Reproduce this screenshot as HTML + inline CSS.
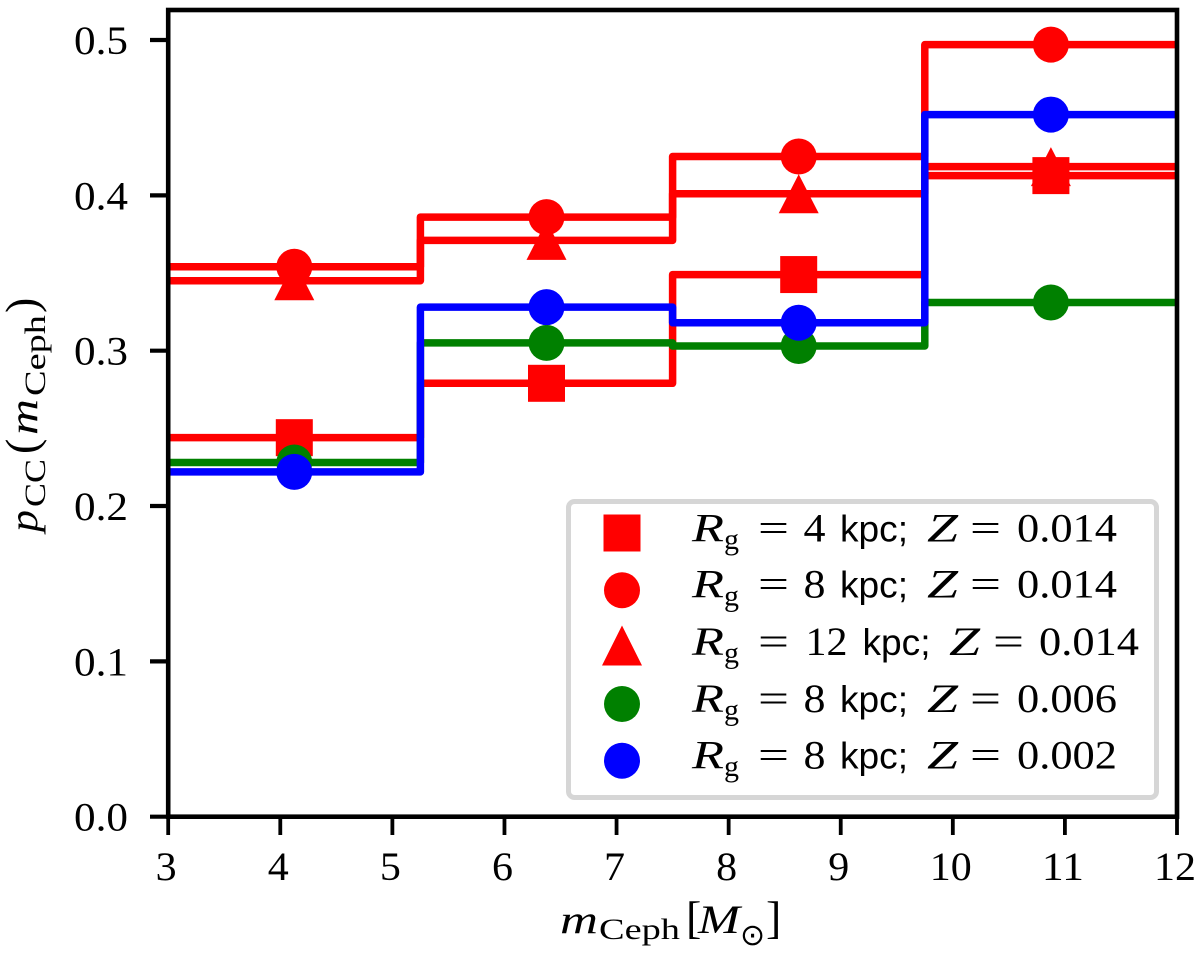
<!DOCTYPE html>
<html lang="en">
<head>
<meta charset="utf-8">
<title>Cepheid probability by mass</title>
<style>
html,body{margin:0;padding:0;background:#fff;}
svg{display:block;}
text{font-family:"Liberation Serif",serif;fill:#000;}
.it{font-style:italic;}
.sans{font-family:"Liberation Sans",sans-serif;}
</style>
</head>
<body>
<svg id="chart" xmlns="http://www.w3.org/2000/svg" width="1200" height="954" viewBox="0 0 1200 954">
  <defs><clipPath id="plot-clip"><rect x="168" y="10" width="1009" height="807"/></clipPath></defs>
  <rect x="0" y="0" width="1200" height="954" fill="#fff"/>
  <g id="series-layer" clip-path="url(#plot-clip)"></g>
  <g id="tick-layer"></g>
  <rect x="168.2" y="10" width="1008.8" height="806.7" fill="none" stroke="#000" stroke-width="4.6"/>

  <g>
    <rect x="568.5" y="501.5" width="588" height="296" rx="6" fill="#fff" fill-opacity="0.9" stroke="#d6d6d6" stroke-width="5"/>

    <g>
      <rect x="603.5" y="514.5" width="37" height="37" fill="#f00"/>
      <text class="it" x="692" y="541.5" font-size="40" textLength="32" lengthAdjust="spacingAndGlyphs">R</text><text x="724" y="549" font-size="30">g</text>
      <text x="758" y="541.5" font-size="40" textLength="31" lengthAdjust="spacingAndGlyphs">=</text>
      <text x="803.5" y="541.5" font-size="40" textLength="22" lengthAdjust="spacingAndGlyphs">4</text>
      <text class="sans" x="840" y="541.5" font-size="37" textLength="68" lengthAdjust="spacingAndGlyphs">kpc;</text>
      <text class="it" x="927" y="541.5" font-size="40" textLength="31" lengthAdjust="spacingAndGlyphs">Z</text>
      <text x="970" y="541.5" font-size="40" textLength="31" lengthAdjust="spacingAndGlyphs">=</text>
      <text x="1017" y="541.5" font-size="40" textLength="100" lengthAdjust="spacingAndGlyphs">0.014</text>
    </g>
    <g>
      <circle cx="622" cy="590.3" r="18" fill="#f00"/>
      <text class="it" x="692" y="597.5" font-size="40" textLength="32" lengthAdjust="spacingAndGlyphs">R</text><text x="724" y="605.5" font-size="30">g</text>
      <text x="758" y="597.5" font-size="40" textLength="31" lengthAdjust="spacingAndGlyphs">=</text>
      <text x="803.5" y="597.5" font-size="40" textLength="22" lengthAdjust="spacingAndGlyphs">8</text>
      <text class="sans" x="840" y="597.5" font-size="37" textLength="68" lengthAdjust="spacingAndGlyphs">kpc;</text>
      <text class="it" x="927" y="597.5" font-size="40" textLength="31" lengthAdjust="spacingAndGlyphs">Z</text>
      <text x="970" y="597.5" font-size="40" textLength="31" lengthAdjust="spacingAndGlyphs">=</text>
      <text x="1017" y="597.5" font-size="40" textLength="100" lengthAdjust="spacingAndGlyphs">0.014</text>
    </g>
    <g>
      <polygon points="622,625.5 642,665.5 602,665.5" fill="#f00"/>
      <text class="it" x="692" y="655" font-size="40" textLength="32" lengthAdjust="spacingAndGlyphs">R</text><text x="724" y="662.5" font-size="30">g</text>
      <text x="758" y="655" font-size="40" textLength="31" lengthAdjust="spacingAndGlyphs">=</text>
      <text x="805.5" y="655" font-size="40" textLength="42" lengthAdjust="spacingAndGlyphs">12</text>
      <text class="sans" x="862.5" y="655" font-size="37" textLength="68" lengthAdjust="spacingAndGlyphs">kpc;</text>
      <text class="it" x="949" y="655" font-size="40" textLength="31" lengthAdjust="spacingAndGlyphs">Z</text>
      <text x="993" y="655" font-size="40" textLength="31" lengthAdjust="spacingAndGlyphs">=</text>
      <text x="1039" y="655" font-size="40" textLength="100" lengthAdjust="spacingAndGlyphs">0.014</text>
    </g>
    <g>
      <circle cx="622" cy="704" r="18" fill="#008000"/>
      <text class="it" x="692" y="712" font-size="40" textLength="32" lengthAdjust="spacingAndGlyphs">R</text><text x="724" y="719.5" font-size="30">g</text>
      <text x="758" y="712" font-size="40" textLength="31" lengthAdjust="spacingAndGlyphs">=</text>
      <text x="803.5" y="712" font-size="40" textLength="22" lengthAdjust="spacingAndGlyphs">8</text>
      <text class="sans" x="840" y="712" font-size="37" textLength="68" lengthAdjust="spacingAndGlyphs">kpc;</text>
      <text class="it" x="927" y="712" font-size="40" textLength="31" lengthAdjust="spacingAndGlyphs">Z</text>
      <text x="970" y="712" font-size="40" textLength="31" lengthAdjust="spacingAndGlyphs">=</text>
      <text x="1017" y="712" font-size="40" textLength="100" lengthAdjust="spacingAndGlyphs">0.006</text>
    </g>
    <g>
      <circle cx="622" cy="760.7" r="18" fill="#00f"/>
      <text class="it" x="692" y="768.5" font-size="40" textLength="32" lengthAdjust="spacingAndGlyphs">R</text><text x="724" y="776" font-size="30">g</text>
      <text x="758" y="768.5" font-size="40" textLength="31" lengthAdjust="spacingAndGlyphs">=</text>
      <text x="803.5" y="768.5" font-size="40" textLength="22" lengthAdjust="spacingAndGlyphs">8</text>
      <text class="sans" x="840" y="768.5" font-size="37" textLength="68" lengthAdjust="spacingAndGlyphs">kpc;</text>
      <text class="it" x="927" y="768.5" font-size="40" textLength="31" lengthAdjust="spacingAndGlyphs">Z</text>
      <text x="970" y="768.5" font-size="40" textLength="31" lengthAdjust="spacingAndGlyphs">=</text>
      <text x="1017" y="768.5" font-size="40" textLength="100" lengthAdjust="spacingAndGlyphs">0.002</text>
    </g>
  </g>

  <g>
    <text class="it" x="560" y="933" font-size="40" textLength="38" lengthAdjust="spacingAndGlyphs">m</text>
    <text x="599" y="939" font-size="30" textLength="81" lengthAdjust="spacingAndGlyphs">Ceph</text>
    <text x="686" y="933" font-size="46">[</text>
    <text class="it" x="698" y="933" font-size="40" textLength="42" lengthAdjust="spacingAndGlyphs">M</text>
    <text x="740" y="945" font-size="30" style="font-family:'DejaVu Sans',sans-serif">⊙</text>
    <text x="766" y="933" font-size="46">]</text>
  </g>
  <g>
    <text class="it" transform="translate(37,532) rotate(-90)" font-size="40" textLength="22" lengthAdjust="spacingAndGlyphs">p</text>
    <text transform="translate(45,507) rotate(-90)" font-size="30" textLength="48" lengthAdjust="spacingAndGlyphs">CC</text>
    <text transform="translate(37,454) rotate(-90)" font-size="46">(</text>
    <text class="it" transform="translate(37,435) rotate(-90)" font-size="40" textLength="36" lengthAdjust="spacingAndGlyphs">m</text>
    <text transform="translate(45,396) rotate(-90)" font-size="30" textLength="81" lengthAdjust="spacingAndGlyphs">Ceph</text>
    <text transform="translate(37,313) rotate(-90)" font-size="46">)</text>
  </g>
</svg>
<script>
const binEdges = [3, 5.25, 7.5, 9.75, 12];
const binCenters = [4.125, 6.375, 8.625, 10.875];
const xTickValues = [3, 4, 5, 6, 7, 8, 9, 10, 11, 12];
const xTickLabels = ['3', '4', '5', '6', '7', '8', '9', '10', '11', '12'];
const yTickValues = [0, 0.1, 0.2, 0.3, 0.4, 0.5];
const yTickLabels = ['0.0', '0.1', '0.2', '0.3', '0.4', '0.5'];
const seriesR4Z014 = [0.244, 0.279, 0.349, 0.4127];
const seriesR8Z014 = [0.354, 0.386, 0.425, 0.497];
const seriesR12Z014 = [0.345, 0.371, 0.401, 0.4185];
const seriesR8Z006 = [0.228, 0.305, 0.303, 0.331];
const seriesR8Z002 = [0.222, 0.328, 0.318, 0.452];

const NS = 'http://www.w3.org/2000/svg';
const xScale = function (v) { return 168.2 + (v - 3) * (1008.8 / 9); };
const yScale = function (v) { return 816.7 - v * 1553.4; };
const seriesLayer = document.getElementById('series-layer');
const tickLayer = document.getElementById('tick-layer');

function make(tag, attrs, parent) {
  const node = document.createElementNS(NS, tag);
  Object.keys(attrs).forEach(function (k) { node.setAttribute(k, attrs[k]); });
  parent.appendChild(node);
  return node;
}

function stepPath(values) {
  let d = 'M' + xScale(binEdges[0]) + ' ' + yScale(values[0]);
  values.forEach(function (v, i) {
    d += ' L' + xScale(binEdges[i]) + ' ' + yScale(v);
    d += ' L' + xScale(binEdges[i + 1]) + ' ' + yScale(v);
  });
  return d;
}

function drawMarker(shape, value, center, color) {
  const cx = xScale(center);
  const cy = yScale(value);
  let m;
  if (shape === 'square') {
    m = make('rect', { x: cx - 18.5, y: cy - 18.5, width: 37, height: 37, fill: color }, seriesLayer);
  } else if (shape === 'triangle') {
    m = make('polygon', { points: cx + ',' + (cy - 19.5) + ' ' + (cx + 20) + ',' + (cy + 19.5) + ' ' + (cx - 20) + ',' + (cy + 19.5), fill: color }, seriesLayer);
  } else {
    m = make('circle', { cx: cx, cy: cy, r: 18, fill: color }, seriesLayer);
  }
  
  
}

function drawSeries(values, shape, color) {
  const line = make('path', { d: stepPath(values), fill: 'none', stroke: color, 'stroke-width': 7.5, 'stroke-linejoin': 'round' }, seriesLayer);
  
  
  values.forEach(function (v, i) { drawMarker(shape, v, binCenters[i], color); });
}

drawSeries(seriesR4Z014, 'square', '#f00');
drawSeries(seriesR8Z014, 'circle', '#f00');
drawSeries(seriesR12Z014, 'triangle', '#f00');
drawSeries(seriesR8Z006, 'circle', '#008000');
drawSeries(seriesR8Z002, 'circle', '#00f');

xTickValues.forEach(function (v, i) {
  const x = xScale(v);
  const tick = make('line', { x1: x, x2: x, y1: 817, y2: 835, stroke: '#000', 'stroke-width': 3.8 }, tickLayer);
  
  
  const width = 21 * xTickLabels[i].length;
  const label = make('text', { x: x - 2 - width / 2, y: 880, 'font-size': 40, textLength: width, lengthAdjust: 'spacingAndGlyphs' }, tickLayer);
  
  
  label.textContent = xTickLabels[i];
});

yTickValues.forEach(function (v, i) {
  const y = yScale(v);
  const tick = make('line', { x1: 150, x2: 168, y1: y, y2: y, stroke: '#000', 'stroke-width': 4.2 }, tickLayer);
  
  
  const label = make('text', { x: 74, y: y + 14, 'font-size': 40, textLength: 54, lengthAdjust: 'spacingAndGlyphs' }, tickLayer);
  
  
  label.textContent = yTickLabels[i];
});
</script>
</body>
</html>
